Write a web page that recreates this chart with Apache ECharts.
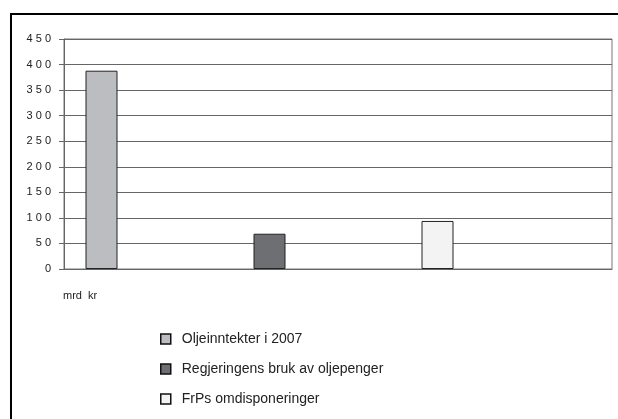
<!DOCTYPE html>
<html>
<head>
<meta charset="utf-8">
<script src="https://cdn.jsdelivr.net/npm/echarts@6/dist/echarts.min.js"></script>
<style>
  html, body { margin: 0; padding: 0; background: #fff; }
  #chart { width: 618px; height: 419px; }
</style>
</head>
<body>
<div id="chart"></div>
<script>
// x slots (only used for ticks), bars sit in the second slot
var categories = ['', '', '', ''];
var unitLabel = 'mrd  kr';
var seriesNames = ['Oljeinntekter i 2007', 'Regjeringens bruk av oljepenger', 'FrPs omdisponeringer'];
var oilIncome = ['-', 388, '-', '-'];
var govSpending = ['-', 69, '-', '-'];
var frpChanges = ['-', 94, '-', '-'];
var barColors = ['#bcbdc1', '#6e6f73', '#f3f3f3'];

var myChart = echarts.init(document.getElementById('chart'));

function bar(name, data, color) {
  return {
    name: name,
    type: 'bar',
    data: data,
    barWidth: 32,
    barGap: '425%',
    itemStyle: { color: color, borderColor: '#222', borderWidth: 1 }
  };
}

myChart.setOption({
  animation: false,
  textStyle: { fontFamily: 'Liberation Sans, Arial, sans-serif' },
  graphic: [{
    type: 'rect',
    shape: { x: 11, y: 14, width: 700, height: 500 },
    style: { fill: 'none', stroke: '#000', lineWidth: 2 }
  }],
  grid: {
    left: 64, right: 6, top: 39, bottom: 150,
    show: true, borderColor: '#777', borderWidth: 1
  },
  legend: {
    orient: 'vertical',
    left: 155, top: 327,
    itemWidth: 10, itemHeight: 10, itemGap: 16,
    icon: 'rect',
    itemStyle: { borderColor: '#111', borderWidth: 1.5 },
    textStyle: { fontSize: 14, color: '#222', padding: [0, 0, 0, 6] },
    data: seriesNames
  },
  xAxis: {
    type: 'category',
    data: categories,
    boundaryGap: true,
    name: unitLabel,
    nameLocation: 'start',
    nameGap: 1,
    nameTextStyle: { fontSize: 11, color: '#222', align: 'left', verticalAlign: 'top', padding: [21, 0, 0, 0] },
    axisLine: { lineStyle: { color: '#666' } },
    axisTick: { length: 5, lineStyle: { color: '#666' } },
    axisLabel: { show: false }
  },
  yAxis: {
    type: 'value',
    min: 0, max: 450, interval: 50,
    axisLine: { show: true, lineStyle: { color: '#666' } },
    axisTick: { show: true, length: 5, lineStyle: { color: '#666' } },
    axisLabel: {
      fontSize: 11, color: '#222', margin: 13,
      formatter: function (v) { return String(v).split('').join(' '); }
    },
    splitLine: { lineStyle: { color: '#666' } }
  },
  series: [
    bar(seriesNames[0], oilIncome, barColors[0]),
    bar(seriesNames[1], govSpending, barColors[1]),
    bar(seriesNames[2], frpChanges, barColors[2])
  ]
});
</script>
</body>
</html>
